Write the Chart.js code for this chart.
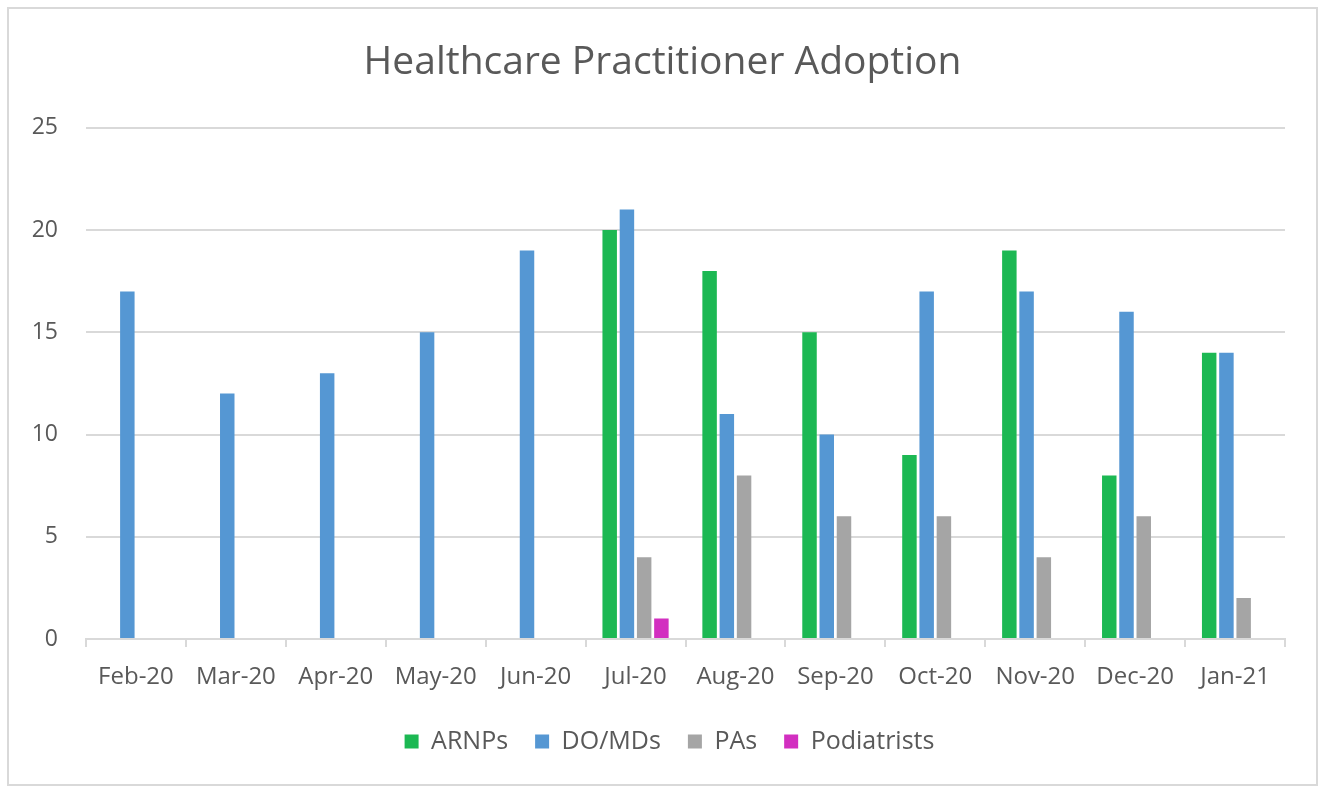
<!DOCTYPE html>
<html>
<head>
<meta charset="utf-8">
<script src="https://cdn.jsdelivr.net/npm/chart.js@4.4.1/dist/chart.umd.min.js"></script>
<style>
    html, body { margin: 0; padding: 0; background: #fff; }
    #wrap { position: absolute; left: 0; top: 0; width: 1322px; height: 786px; }
    #frame { position: absolute; left: 7px; top: 7px; width: 1307px; height: 775px; border: 2px solid #d9d9d9; pointer-events: none; }
</style>
</head>
<body>
<div id="wrap"><canvas id="chart" width="1322" height="786"></canvas></div>
<div id="frame"></div>
<script>
// data
const months = ['Feb-20', 'Mar-20', 'Apr-20', 'May-20', 'Jun-20', 'Jul-20', 'Aug-20', 'Sep-20', 'Oct-20', 'Nov-20', 'Dec-20', 'Jan-21'];
const arnps = [null, null, null, null, null, 20, 18, 15, 9, 19, 8, 14];
const doMds = [17, 12, 13, 15, 19, 21, 11, 10, 17, 17, 16, 14];
const pas = [null, null, null, null, null, 4, 8, 6, 6, 4, 6, 2];
const podiatrists = [null, null, null, null, null, 1, null, null, null, null, null, null];
const yTicks = [0, 5, 10, 15, 20, 25];

const textColor = '#595959';
const gridColor = '#d9d9d9';
const fontFamily = "'Open Sans', 'Noto Sans', sans-serif";

// Excel centres title and legend a bit right of the canvas middle
const shiftBlocks = {
    id: 'shiftBlocks',
    afterLayout(chart) {
        if (chart.legend) {
            chart.legend.left += 27;
            chart.legend.right += 27;
        }
        if (chart.titleBlock) {
            chart.titleBlock.left += 20;
            chart.titleBlock.right += 20;
        }
    }
};

const ctx = document.getElementById('chart').getContext('2d');
new Chart(ctx, {
    type: 'bar',
    data: {
        labels: months,
        datasets: [
            { label: 'ARNPs', data: arnps, backgroundColor: '#1cb853' },
            { label: 'DO/MDs', data: doMds, backgroundColor: '#5597d3' },
            { label: 'PAs', data: pas, backgroundColor: '#a5a5a5' },
            { label: 'Podiatrists', data: podiatrists, backgroundColor: '#d22fc0' }
        ]
    },
    plugins: [shiftBlocks],
    options: {
        responsive: false,
        animation: false,
        datasets: {
            bar: { categoryPercentage: 0.69, barPercentage: 0.84, skipNull: false }
        },
        layout: { padding: { left: 0, right: 37, top: 0, bottom: 22 } },
        plugins: {
            title: {
                display: true,
                text: 'Healthcare Practitioner Adoption',
                color: textColor,
                font: { family: fontFamily, size: 39, weight: 'normal' },
                padding: { top: 39, bottom: 42 }
            },
            legend: {
                position: 'bottom',
                labels: {
                    color: textColor,
                    font: { family: fontFamily, size: 25 },
                    boxWidth: 14,
                    boxHeight: 14,
                    padding: 27
                }
            },
            tooltip: { enabled: false }
        },
        scales: {
            x: {
                offset: true,
                afterFit: (scale) => { scale.height = 63; },
                grid: {
                    offset: true,
                    drawOnChartArea: false,
                    color: gridColor,
                    lineWidth: 2,
                    tickLength: 8
                },
                border: { color: gridColor, width: 2 },
                ticks: {
                    color: textColor,
                    font: { family: fontFamily, size: 24 },
                    maxRotation: 0,
                    autoSkip: false,
                    padding: 16
                }
            },
            y: {
                min: 0,
                max: 25,
                afterFit: (scale) => { scale.width = 86; },
                afterBuildTicks: (scale) => { scale.ticks = yTicks.map(v => ({ value: v })); },
                grid: { color: gridColor, lineWidth: 2, drawTicks: false },
                border: { display: false },
                ticks: {
                    color: textColor,
                    font: { family: fontFamily, size: 23 },
                    padding: 28
                }
            }
        }
    }
});
</script>
</body>
</html>
